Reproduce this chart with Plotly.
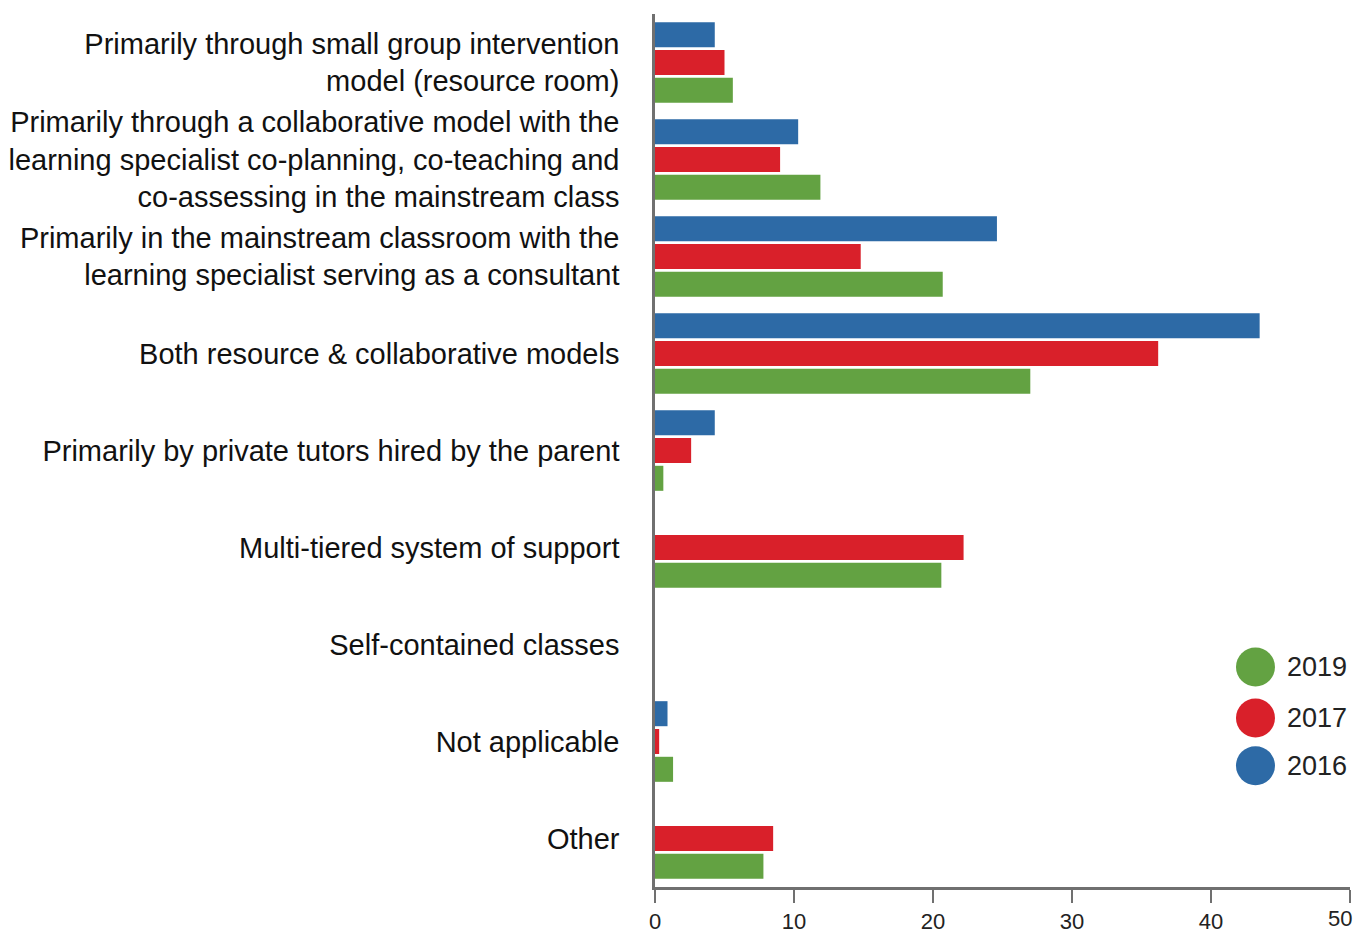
import plotly.graph_objects as go

categories = [
    "Primarily through small group intervention<br>model (resource room)",
    "Primarily through a collaborative model with the<br>learning specialist co-planning, co-teaching and<br>co-assessing in the mainstream class",
    "Primarily in the mainstream classroom with the<br>learning specialist serving as a consultant",
    "Both resource & collaborative models",
    "Primarily by private tutors hired by the parent",
    "Multi-tiered system of support",
    "Self-contained classes",
    "Not applicable",
    "Other",
]
values_2016 = [4.3, 10.3, 24.6, 43.5, 4.3, None, None, 0.9, None]
values_2017 = [5.0, 9.0, 14.8, 36.2, 2.6, 22.2, None, 0.3, 8.5]
values_2019 = [5.6, 11.9, 20.7, 27.0, 0.6, 20.6, None, 1.3, 7.8]
series = [("2016", values_2016), ("2017", values_2017), ("2019", values_2019)]
x_ticks = [0, 10, 20, 30, 40, 50]
x_ticktext = ["0", "10", "20", "30", "40", ""]
last_tick_label = "50"

colors = {"2016": "#2D6AA6", "2017": "#D9202A", "2019": "#63A242"}
FONT = "Liberation Sans, Arial, sans-serif"

fig = go.Figure()
for name, vals in series:
    fig.add_trace(go.Bar(
        y=categories, x=vals, name=name, orientation="h",
        marker=dict(color=colors[name], line=dict(width=0)),
        showlegend=False,
    ))

# custom legend with large circles
legend_items = [("2019", 0.252), ("2017", 0.1936), ("2016", 0.139)]
for name, yy in legend_items:
    fig.add_shape(type="circle", xref="paper", yref="paper",
                  xsizemode="pixel", ysizemode="pixel",
                  xanchor=0.864, yanchor=yy,
                  x0=-19.5, x1=19.5, y0=-19.5, y1=19.5,
                  fillcolor=colors[name], line=dict(width=0))
    fig.add_annotation(xref="paper", yref="paper", x=0.906, y=yy,
                       xanchor="left", yanchor="middle", showarrow=False,
                       text=name, font=dict(size=27, color="#222222", family=FONT))

# last x tick label sits slightly left in the reference (kept inside the page)
fig.add_annotation(xref="x", yref="paper", x=x_ticks[-1], y=0, xshift=-10, yshift=-45,
                   xanchor="center", yanchor="bottom", showarrow=False, borderpad=0,
                   text=last_tick_label, font=dict(size=22, color="#222222", family=FONT))

axis_col = "#707070"
fig.update_layout(
    width=1360, height=933,
    margin=dict(l=655, r=10, t=14, b=46, autoexpand=False),
    paper_bgcolor="white", plot_bgcolor="white",
    barmode="group", bargap=0.14, bargroupgap=0.1,
    font=dict(family=FONT, color="#1a1a1a"),
    xaxis=dict(range=[0, 50], tickvals=x_ticks, ticktext=x_ticktext, showgrid=False,
               zeroline=False, automargin=False,
               showline=True, linecolor=axis_col, linewidth=2.5,
               ticks="outside", ticklen=13, tickwidth=2, tickcolor=axis_col,
               tickfont=dict(size=22, color="#222222")),
    yaxis=dict(categoryorder="array", categoryarray=categories, autorange="reversed",
               showgrid=False, zeroline=False, showline=True, linecolor=axis_col,
               linewidth=2.5, ticks="", ticklabelstandoff=27, automargin=False,
               tickfont=dict(size=29, color="#111111")),
)
fig.write_html(
    "out.html",
    config={"displayModeBar": False},
    post_script="document.body.style.margin='0';document.body.style.overflow='hidden';",
)
